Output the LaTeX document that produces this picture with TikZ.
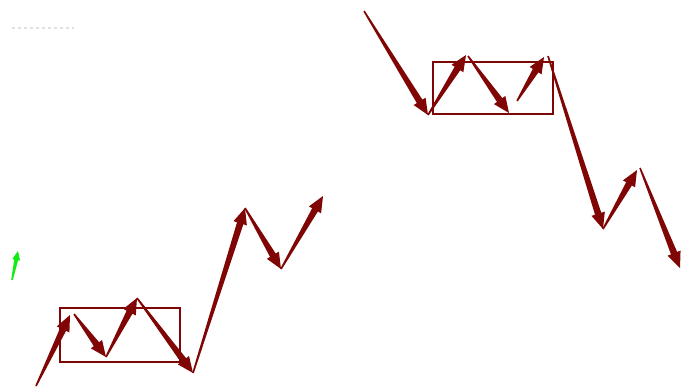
\documentclass[tikz,border=0pt]{standalone}
\usepackage{tikz}
\usetikzlibrary{calc}
\definecolor{wavered}{RGB}{128,6,6}
\definecolor{wavegreen}{RGB}{20,235,20}
\definecolor{wavegray}{RGB}{225,225,225}
\tikzset{
  arrowfill/.style={fill=wavered},
  greenfill/.style={fill=wavegreen},
  rangebox/.style={draw=wavered, line width=1.5pt},
  faintdots/.style={wavegray, line width=2.5pt, dash pattern=on 3pt off 3pt}
}
% tapered arrow: tail width, shaft width, head width, head length
\def\tw{0.8pt}\def\sw{3.3pt}\def\hw{7pt}\def\hl{16pt}
\newcommand{\tarrow}[3][arrowfill]{%
  \coordinate (hb) at ($(#3)!\hl!(#2)$);
  \fill[#1] ($(#2)!\tw!90:(#3)$) -- ($(hb)!\sw!90:(#3)$) -- ($(hb)!\hw!90:(#3)$)
    -- (#3) -- ($(hb)!\hw!-90:(#3)$) -- ($(hb)!\sw!-90:(#3)$)
    -- ($(#2)!\tw!-90:(#3)$) -- cycle;
}

\begin{document}
\begin{tikzpicture}[x=1pt,y=-1pt]
  \useasboundingbox (0,0) rectangle (682,386);
  \draw[faintdots] (12,28) -- (74,28);

  % lower wave
  \coordinate (l0) at (36,386);
  \coordinate (l1) at (70,315);
  \coordinate (l1b) at (74,314);
  \coordinate (l2) at (106,357);
  \coordinate (l3) at (137,298);
  \coordinate (l4) at (193,373);
  \coordinate (l5) at (245,208);
  \coordinate (l6) at (281,269);
  \coordinate (l7) at (323,196);
  \draw[rangebox] (60,308) rectangle (180,362);
  \tarrow{l0}{l1}
  \tarrow{l1b}{l2}
  \tarrow{l2}{l3}
  \tarrow{l3}{l4}
  \tarrow{l4}{l5}
  \tarrow{l5}{l6}
  \tarrow{l6}{l7}

  % upper wave
  \coordinate (u0) at (364,11);
  \coordinate (u1) at (428,115);
  \coordinate (u2) at (466,55);
  \coordinate (u2b) at (468,56);
  \coordinate (u3) at (509,113);
  \coordinate (u3b) at (517,101);
  \coordinate (u4) at (544,57);
  \coordinate (u4b) at (548,56);
  \coordinate (u5) at (603,229);
  \coordinate (u6) at (637,170);
  \coordinate (u6b) at (640,168);
  \coordinate (u7) at (680,268);
  \draw[rangebox] (433,62) rectangle (553,114);
  \tarrow{u0}{u1}
  \tarrow{u1}{u2}
  \tarrow{u2b}{u3}
  \tarrow{u3b}{u4}
  \tarrow{u4b}{u5}
  \tarrow{u5}{u6}
  \tarrow{u6b}{u7}

  % small green marker
  \begin{scope}
    \def\tw{0.8pt}\def\sw{2pt}\def\hw{4pt}\def\hl{9pt}
    \coordinate (g0) at (12,280);
    \coordinate (g1) at (18,251);
    \tarrow[greenfill]{g0}{g1}
  \end{scope}
\end{tikzpicture}
\end{document}
